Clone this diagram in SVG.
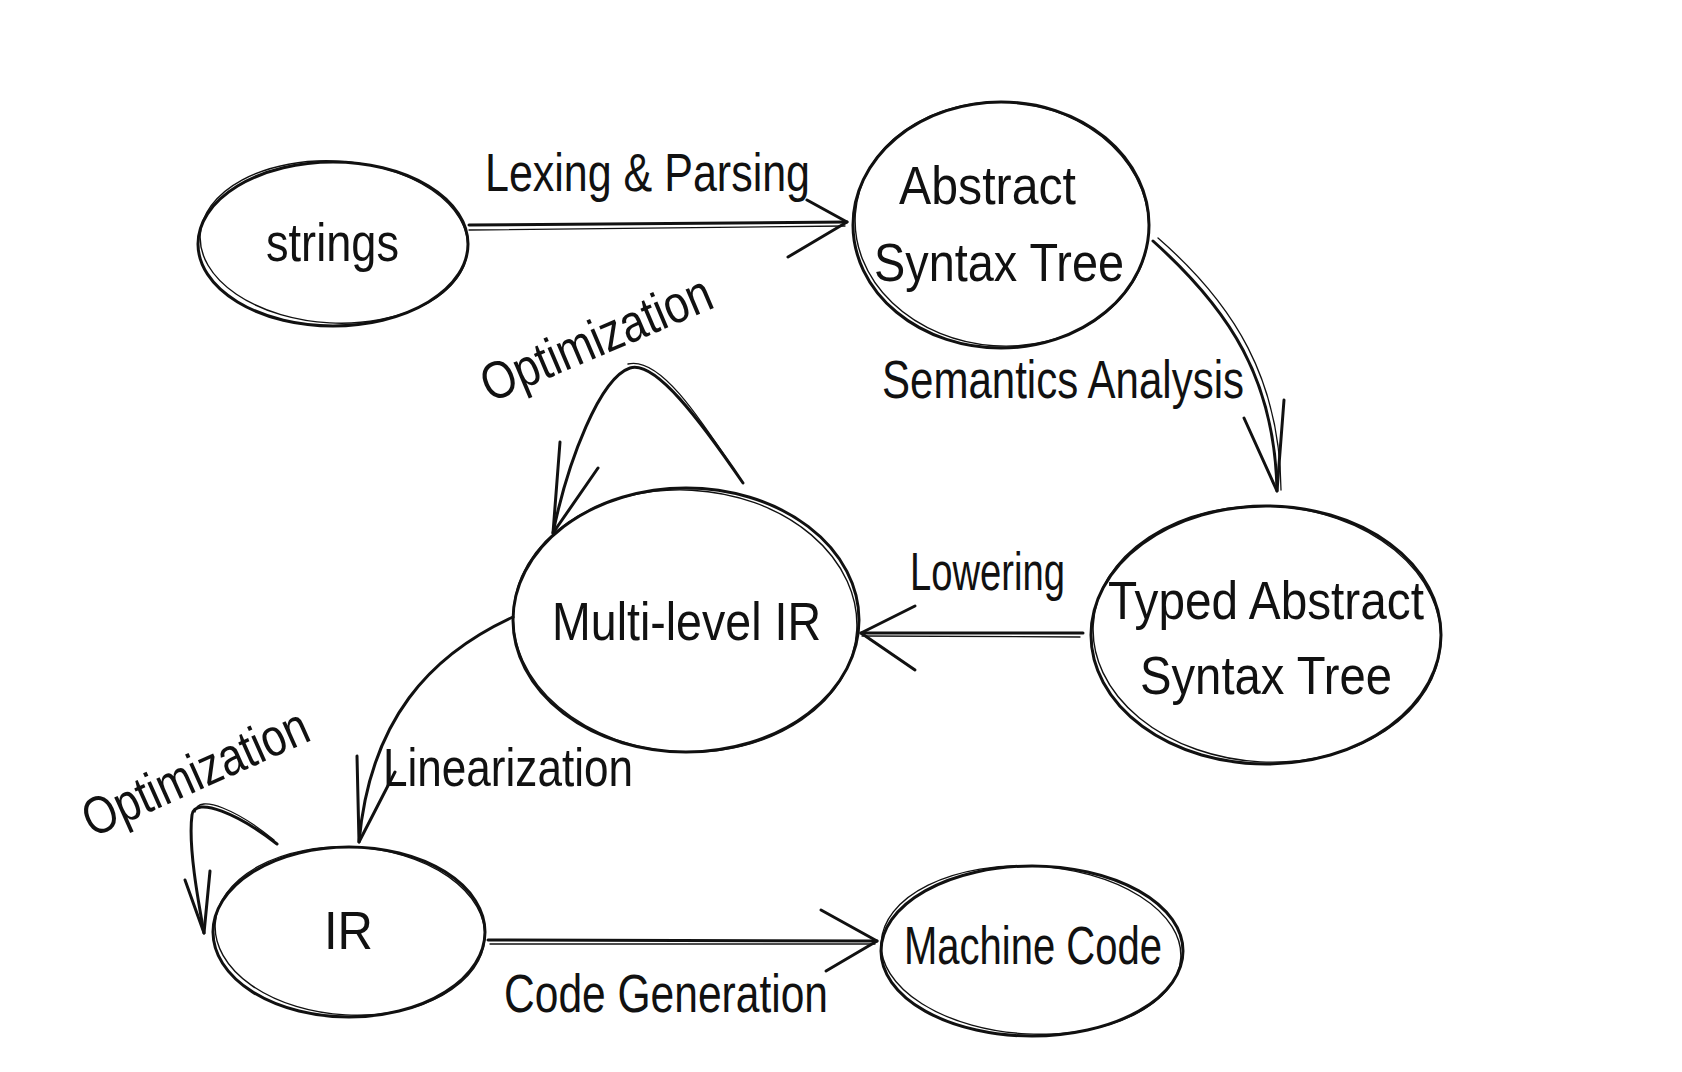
<svg xmlns="http://www.w3.org/2000/svg" width="1682" height="1072" viewBox="0 0 1682 1072">
<style>
.bg{fill:#ffffff}
.n{fill:none;stroke:#111;stroke-width:3}
.n2{fill:none;stroke:#111;stroke-width:1.4}
.c{fill:none;stroke:#111;stroke-width:3;stroke-linecap:round;stroke-linejoin:round}
.c2{fill:none;stroke:#111;stroke-width:1.3;stroke-linecap:round}
.t{font-family:"Liberation Sans",Arial,sans-serif;font-size:53px;fill:#111}
</style>
<rect class="bg" x="0" y="0" width="1682" height="1072"/>
<g id="node-strings">
<ellipse class="n" cx="333" cy="244" rx="135" ry="82"/>
<ellipse class="n2" cx="334" cy="242" rx="134" ry="81" transform="rotate(3 334 242)"/>
<text class="t" x="266" y="261" textLength="133" lengthAdjust="spacingAndGlyphs">strings</text>
</g>
<g id="node-ast">
<ellipse class="n" cx="1001" cy="225" rx="148" ry="123"/>
<ellipse class="n2" cx="1002" cy="224" rx="147" ry="122" transform="rotate(4 1002 224)"/>
<text class="t" x="899" y="204" textLength="177" lengthAdjust="spacingAndGlyphs">Abstract</text>
<text class="t" x="874" y="281" textLength="250" lengthAdjust="spacingAndGlyphs">Syntax Tree</text>
</g>
<g id="node-typed-ast">
<ellipse class="n" cx="1266" cy="635" rx="175" ry="129"/>
<ellipse class="n2" cx="1267" cy="634" rx="174" ry="128" transform="rotate(3 1267 634)"/>
<text class="t" x="1108" y="619" textLength="316" lengthAdjust="spacingAndGlyphs">Typed Abstract</text>
<text class="t" x="1140" y="694" textLength="252" lengthAdjust="spacingAndGlyphs">Syntax Tree</text>
</g>
<g id="node-mlir">
<ellipse class="n" cx="686" cy="620" rx="173" ry="132"/>
<ellipse class="n2" cx="685" cy="621" rx="172" ry="131" transform="rotate(3 685 621)"/>
<text class="t" x="552" y="640" textLength="269" lengthAdjust="spacingAndGlyphs">Multi-level IR</text>
</g>
<g id="node-ir">
<ellipse class="n" cx="349" cy="932" rx="136" ry="85"/>
<ellipse class="n2" cx="350" cy="931" rx="135" ry="84" transform="rotate(3 350 931)"/>
<text class="t" x="324" y="949" textLength="49" lengthAdjust="spacingAndGlyphs">IR</text>
</g>
<g id="node-machine-code">
<ellipse class="n" cx="1032" cy="951" rx="151" ry="85"/>
<ellipse class="n2" cx="1031" cy="950" rx="150" ry="84" transform="rotate(3 1031 950)"/>
<text class="t" x="904" y="964" textLength="258" lengthAdjust="spacingAndGlyphs">Machine Code</text>
</g>
<g id="connectors">
<path class="c" d="M469,225 L847,222"/>
<path class="c2" d="M469,230 L845,226"/>
<path class="c" d="M807,200 L847,222 L788,257"/>
<path class="c" d="M1153,241 C1230,310 1275,380 1277,491"/>
<path class="c2" d="M1158,238 C1235,305 1280,380 1281,490"/>
<path class="c" d="M1244,418 L1277,491 L1284,400"/>
<path class="c" d="M1083,633 L861,633"/>
<path class="c2" d="M1080,637 L862,636"/>
<path class="c" d="M915,606 L861,633 L915,670"/>
<path class="c" d="M743,483 C700,420 655,360 630,368 C600,378 568,460 553,533"/>
<path class="c2" d="M741,480 C700,418 660,356 628,364"/>
<path class="c" d="M560,442 L553,533 L598,468"/>
<path class="c" d="M513,617 C430,655 370,720 359,842"/>
<path class="c" d="M357,756 L359,842 L395,772"/>
<path class="c" d="M277,844 C240,815 195,795 192,815 C188,845 198,900 204,933"/>
<path class="c2" d="M274,840 C240,812 198,792 195,812"/>
<path class="c" d="M185,880 L204,933 L210,871"/>
<path class="c" d="M488,940 L877,941"/>
<path class="c2" d="M490,944 L875,944"/>
<path class="c" d="M821,910 L877,941 L826,971"/>
</g>
<g id="labels">
<text class="t" x="485" y="191" textLength="325" lengthAdjust="spacingAndGlyphs">Lexing &amp; Parsing</text>
<text class="t" x="882" y="398" textLength="362" lengthAdjust="spacingAndGlyphs">Semantics Analysis</text>
<text class="t" x="490" y="403" textLength="246" lengthAdjust="spacingAndGlyphs" transform="rotate(-23 490 403)">Optimization</text>
<text class="t" x="910" y="590" textLength="155" lengthAdjust="spacingAndGlyphs">Lowering</text>
<text class="t" x="383" y="786" textLength="250" lengthAdjust="spacingAndGlyphs">Linearization</text>
<text class="t" x="92" y="838" textLength="242" lengthAdjust="spacingAndGlyphs" transform="rotate(-24 92 838)">Optimization</text>
<text class="t" x="504" y="1012" textLength="324" lengthAdjust="spacingAndGlyphs">Code Generation</text>
</g>
</svg>
